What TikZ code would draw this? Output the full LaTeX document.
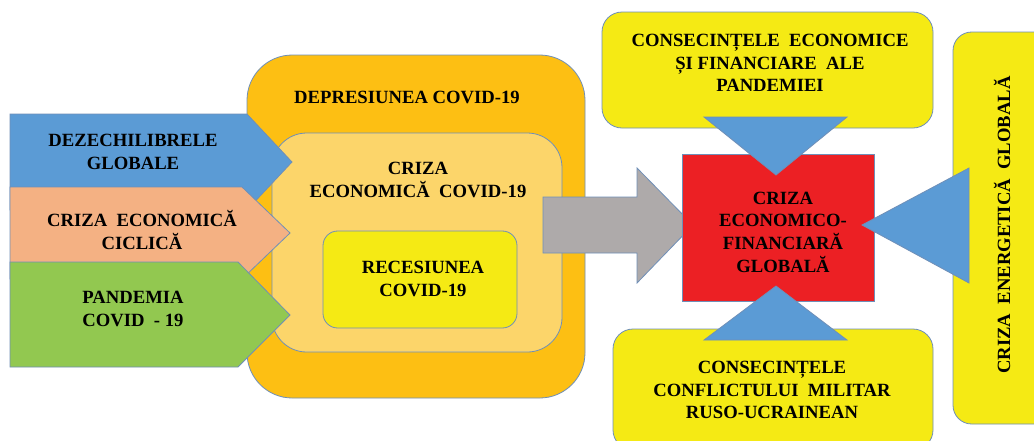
\documentclass[tikz,border=0pt]{standalone}
\usepackage{fontspec}
\setmainfont{Liberation Serif}
\definecolor{cblue}{HTML}{5B9BD5}
\definecolor{csalmon}{HTML}{F4B183}
\definecolor{cgreen}{HTML}{92C850}
\definecolor{corange}{HTML}{FDBF13}
\definecolor{clight}{HTML}{FCD56A}
\definecolor{cyellow}{HTML}{F5EA14}
\definecolor{cgray}{HTML}{AEAAAA}
\definecolor{cred}{HTML}{EC2024}
\definecolor{cline}{HTML}{6F8FB8}
\tikzset{
  shp/.style={draw=cline, line width=0.6pt},
  lbl/.style={font=\fontsize{14}{17}\selectfont\bfseries, align=center, text=black, inner sep=0pt},
}
\begin{document}
\begin{tikzpicture}[x=0.75pt,y=-0.75pt]
\useasboundingbox (0,0) rectangle (1034,440);
\fill[white] (0,0) rectangle (1034,440);
\begin{scope}
\clip (0,0) rectangle (1034,440);
% nested boxes
\draw[shp, fill=corange, rounded corners=34pt] (247,55) rectangle (585,398);
\draw[shp, fill=clight, rounded corners=26pt] (272,133) rectangle (562,352);
\draw[shp, fill=cyellow, rounded corners=11pt] (323,231) rectangle (517,328);
\node[lbl] (dep) at (407,97) {DEPRESIUNEA COVID-19};
\node[lbl] (cec) at (418,180) {CRIZA\\ECONOMICĂ\ \ COVID-19};
\node[lbl] (rec) at (423,279) {RECESIUNEA\\COVID-19};
% left arrows
\draw[shp, fill=cblue] (10,114) -- (247,114) -- (292,162) -- (247,210) -- (10,210) -- cycle;
\draw[shp, fill=csalmon] (10,187) -- (242,187) -- (290,233) -- (242,279) -- (10,279) -- cycle;
\draw[shp, fill=cgreen] (10,262) -- (238,262) -- (290,315) -- (238,367) -- (10,367) -- cycle;
\node[lbl] (dez) at (133,152) {DEZECHILIBRELE\\GLOBALE};
\node[lbl] (cic) at (142,230) {CRIZA\ \ ECONOMICĂ\\CICLICĂ};
\node[lbl] (pan) at (133,309) {PANDEMIA\\COVID\ \ -\ 19};
% gray arrow
\draw[shp, fill=cgray] (543,197) -- (637,197) -- (637,168) -- (693,225) -- (637,283) -- (637,253) -- (543,253) -- cycle;
% yellow boxes
\draw[shp, fill=cyellow, rounded corners=15pt] (602,12) rectangle (933,128);
\draw[shp, fill=cyellow, rounded corners=15pt] (613,329) rectangle (933,450);
\draw[shp, fill=cyellow, rounded corners=14pt] (953,32) rectangle (1060,424);
% red box
\draw[shp, fill=cred] (682,154) rectangle (874,301);
% blue triangles
\draw[shp, fill=cblue] (704,117) -- (847,117) -- (776,175) -- cycle;
\draw[shp, fill=cblue] (704,340) -- (847,340) -- (776,286) -- cycle;
\draw[shp, fill=cblue] (969,168) -- (969,283) -- (862,225) -- cycle;
% labels
\node[lbl] (cef) at (770,63) {CONSECINȚELE\ \ ECONOMICE\\ȘI FINANCIARE\ \ ALE\\PANDEMIEI};
\node[lbl] (cri) at (783,232) {CRIZA\\ECONOMICO-\\FINANCIARĂ\\GLOBALĂ};
\node[lbl] (ccm) at (772,390) {CONSECINȚELE\\CONFLICTULUI\ \ MILITAR\\RUSO-UCRAINEAN};
\node[lbl, rotate=90] (ceg) at (1002,225) {CRIZA\ \ ENERGETICĂ\ \ GLOBALĂ};
\end{scope}
\end{tikzpicture}
\end{document}
